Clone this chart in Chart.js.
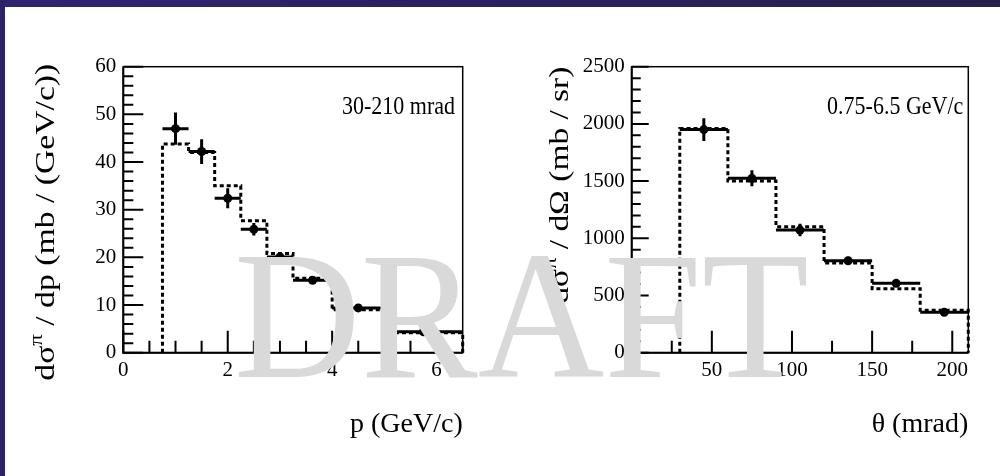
<!DOCTYPE html>
<html><head><meta charset="utf-8">
<script src="https://cdn.jsdelivr.net/npm/chart.js@4.4.1/dist/chart.umd.min.js"></script>
<style>
html,body{margin:0;padding:0;background:#fff;}
#stage{position:relative;width:1000px;height:476px;overflow:hidden;background:#fff;}
#topband{position:absolute;left:0;top:0;width:1000px;height:7px;background:linear-gradient(90deg,#2e2472,#2a2162 50%,#271f4c);}
#leftband{position:absolute;left:0;top:0;width:5px;height:476px;background:#2b226a;}
canvas{position:absolute;top:0;}
#c1{left:0;} #c2{left:500px;}
#wm{position:absolute;left:0;top:0;pointer-events:none;}
</style></head>
<body><div id="stage"><div id="topband"></div><div id="leftband"></div>
<canvas id="c1" width="500" height="476"></canvas><canvas id="c2" width="500" height="476"></canvas>
<svg id="wm" width="1000" height="476"><text x="234" y="377" font-family="Liberation Serif" font-size="182" fill="#d9d9d9" textLength="575" lengthAdjust="spacingAndGlyphs">DRAFT</text></svg>
</div>
<script>
// ---- data: momentum distribution (30-210 mrad) ----
const pEdges   = [0.75, 1.25, 1.75, 2.25, 2.75, 3.25, 4.0, 5.0, 6.5];
const pCenters = [1.0, 1.5, 2.0, 2.5, 3.0, 3.625, 4.5, 5.75];
const pMC      = [43.8, 42.0, 35.0, 27.7, 20.8, 15.6, 9.0, 4.2];
const pData    = [47.0, 42.2, 32.4, 25.9, 20.1, 15.2, 9.4, 4.4];
const pErr     = [3.4, 2.6, 2.1, 1.3, 0.9, 0.6, 0.4, 0.3];
// ---- data: angular distribution (0.75-6.5 GeV/c) ----
const thEdges   = [30, 60, 90, 120, 150, 180, 210];
const thCenters = [45, 75, 105, 135, 165, 195];
const thMC      = [1960, 1500, 1100, 785, 560, 370];
const thData    = [1950, 1524, 1072, 804, 606, 353];
const thErr     = [100, 70, 55, 35, 30, 25];

Chart.defaults.font.family = '"Liberation Serif", "Times New Roman", serif';
Chart.defaults.color = '#000';

function histPoints(edges, vals) {
  const pts = [{x: edges[0], y: 0}];
  vals.forEach((v, i) => pts.push({x: edges[i], y: v}));
  pts.push({x: edges[edges.length - 1], y: 0});
  return pts;
}
function dataPoints(centers, vals) { return centers.map((c, i) => ({x: c, y: vals[i]})); }

function isMajor(v, major) { const r = v / major; return Math.abs(r - Math.round(r)) < 1e-6; }

function makeRootPlugin(cfg) {
  return {
    id: 'rootStyle',
    afterDatasetsDraw(chart) {
      const {ctx, scales: {x, y}} = chart;
      ctx.save();
      ctx.strokeStyle = '#000'; ctx.lineWidth = 3; ctx.lineCap = 'butt';
      cfg.centers.forEach((c, i) => {
        const px = x.getPixelForValue(c);
        const py = y.getPixelForValue(cfg.vals[i]);
        ctx.beginPath();
        ctx.moveTo(x.getPixelForValue(cfg.edges[i]), py);
        ctx.lineTo(x.getPixelForValue(cfg.edges[i + 1]), py);
        ctx.moveTo(px, y.getPixelForValue(cfg.vals[i] - cfg.errs[i]));
        ctx.lineTo(px, y.getPixelForValue(cfg.vals[i] + cfg.errs[i]));
        ctx.stroke();
      });
      ctx.restore();
    },
    afterDraw(chart) {
      const {ctx, chartArea: a, scales: {x, y}} = chart;
      ctx.save();
      ctx.strokeStyle = '#000';
      // inward tick marks
      ctx.lineWidth = 2;
      ctx.beginPath();
      const ny = Math.round((y.max - y.min) / cfg.yMinor);
      for (let i = 0; i <= ny; i++) {
        const v = y.min + i * cfg.yMinor;
        const len = isMajor(v, cfg.yMajor) ? cfg.yMajorLen : cfg.yMinorLen;
        const py = y.getPixelForValue(v);
        ctx.moveTo(a.left, py); ctx.lineTo(a.left + len, py);
      }
      const nx = Math.floor((x.max - x.min) / cfg.xMinor + 1e-9);
      for (let i = 0; i <= nx; i++) {
        const v = x.min + i * cfg.xMinor;
        const len = isMajor(v, cfg.xMajor) ? cfg.xMajorLen : cfg.xMinorLen;
        const px = x.getPixelForValue(v);
        ctx.moveTo(px, a.bottom); ctx.lineTo(px, a.bottom - len);
      }
      ctx.stroke();
      // frame
      ctx.lineWidth = 1.5;
      ctx.strokeRect(a.left, a.top, a.right - a.left, a.bottom - a.top);
      ctx.lineWidth = 2;
      ctx.beginPath();
      ctx.moveTo(a.left, a.top); ctx.lineTo(a.left, a.bottom); ctx.lineTo(a.right, a.bottom);
      ctx.stroke();
      // inset label
      ctx.fillStyle = '#000';
      ctx.font = '22px "Liberation Serif"';
      ctx.textAlign = 'right'; ctx.textBaseline = 'middle';
      ctx.save();
      ctx.translate(a.right - cfg.insetDx, a.top + cfg.insetDy);
      ctx.scale(1, 1.15);
      ctx.fillText(cfg.inset, 0, 0);
      ctx.restore();
      // y-axis title with superscript
      ctx.save();
      ctx.translate(cfg.yTitleX, a.top + cfg.yTitleDy);
      ctx.rotate(-Math.PI / 2);
      ctx.textAlign = 'left'; ctx.textBaseline = 'middle';
      const big = '28px "Liberation Serif"', small = '19px "Liberation Serif"';
      const parts = [{t: 'dσ', f: big, dy: 0}, {t: 'π', f: small, dy: -10}, {t: cfg.yTitleRest, f: big, dy: 0}];
      let total = 0;
      parts.forEach(p => { ctx.font = p.f; p.w = ctx.measureText(p.t).width; total += p.w; });
      ctx.scale(cfg.yTitleLen / total, 1);
      let xx = -total;
      parts.forEach(p => { ctx.font = p.f; ctx.fillText(p.t, xx, p.dy); xx += p.w; });
      ctx.restore();
      ctx.restore();
    }
  };
}

function makeChart(id, cfg) {
  return new Chart(document.getElementById(id), {
    type: 'scatter',
    data: { datasets: [
      { data: histPoints(cfg.edges, cfg.mc), showLine: true, stepped: true, borderColor: '#000',
        borderWidth: 3, borderDash: [4, 3], pointRadius: 0, fill: false, order: 2, clip: 5 },
      { data: dataPoints(cfg.centers, cfg.vals), showLine: false, pointRadius: 4.5,
        pointBackgroundColor: '#000', pointBorderColor: '#000', pointBorderWidth: 0, order: 1, clip: 5 }
    ]},
    options: {
      responsive: false, animation: false, devicePixelRatio: 1,
      layout: { padding: cfg.padding },
      plugins: { legend: { display: false }, tooltip: { enabled: false } },
      scales: {
        x: { type: 'linear', min: cfg.xMin, max: cfg.xMax,
             grid: { display: false, drawTicks: false }, border: { display: false },
             ticks: { stepSize: cfg.xMajor, includeBounds: false, padding: 5, font: { size: 21 }, color: '#000',
                      maxRotation: 0, autoSkip: false,
                      callback: (v) => (cfg.hideX0 && v === 0) ? '' : String(v) },
             title: { display: true, text: cfg.xTitle, align: 'end', padding: 0, font: { size: 28 }, color: '#000' },
             afterFit: (s) => { s.height = cfg.xH; } },
        y: { type: 'linear', min: 0, max: cfg.yMax,
             grid: { display: false, drawTicks: false }, border: { display: false },
             ticks: { stepSize: cfg.yMajor, includeBounds: false, padding: 7, font: { size: 21 }, color: '#000',
                      callback: (v) => String(v) },
             afterFit: (s) => { s.width = cfg.yW; } }
      }
    },
    plugins: [makeRootPlugin(cfg)]
  });
}

makeChart('c1', {
  edges: pEdges, centers: pCenters, mc: pMC, vals: pData, errs: pErr,
  xMin: 0, xMax: 6.5, xMajor: 2, xMinor: 0.5, xMajorLen: 22, xMinorLen: 12,
  yMax: 60, yMajor: 10, yMinor: 2, yMajorLen: 20, yMinorLen: 10,
  padding: { top: 66.7, left: 0, right: 37.3, bottom: 34.2 }, xH: 89.1, yW: 123.3,
  xTitle: 'p (GeV/c)', hideX0: false,
  inset: '30-210 mrad', insetDx: 7.7, insetDy: 40.3,
  yTitleX: 47, yTitleDy: -3, yTitleLen: 317, yTitleRest: ' / dp (mb / (GeV/c))'
});
makeChart('c2', {
  edges: thEdges, centers: thCenters, mc: thMC, vals: thData, errs: thErr,
  xMin: 0, xMax: 210, xMajor: 50, xMinor: 25, xMajorLen: 22, xMinorLen: 12,
  yMax: 2500, yMajor: 500, yMinor: 100, yMajorLen: 17, yMinorLen: 9,
  padding: { top: 66.7, left: 0, right: 31.7, bottom: 34.2 }, xH: 89.1, yW: 131.7,
  xTitle: 'θ (mrad)', hideX0: true,
  inset: '0.75-6.5 GeV/c', insetDx: 5, insetDy: 40.3,
  yTitleX: 61, yTitleDy: 0, yTitleLen: 237, yTitleRest: ' / dΩ (mb / sr)'
});
</script></body></html>
